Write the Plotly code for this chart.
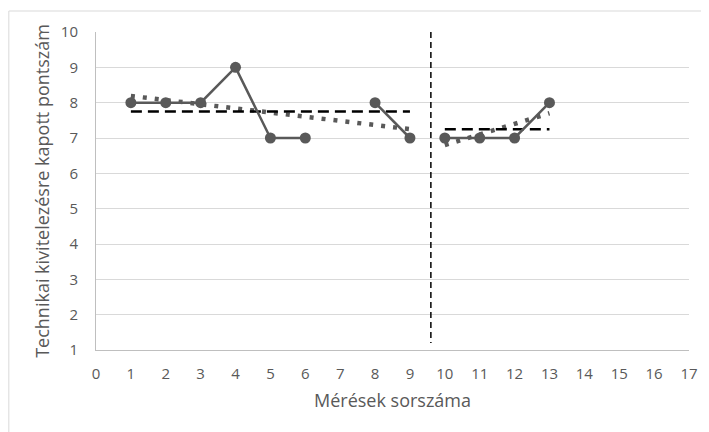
import plotly.graph_objects as go

# Data
phase1_x = [1, 2, 3, 4, 5, 6, None, 8, 9]
phase1_y = [8, 8, 8, 9, 7, 7, None, 8, 7]
phase2_x = [10, 11, 12, 13]
phase2_y = [7, 7, 7, 8]

mean1_x = [1, 9]
mean1_y = [7.75, 7.75]
mean2_x = [10, 13]
mean2_y = [7.25, 7.25]

trend1_x = [1, 9]
trend1_y = [8.19, 7.25]
trend2_x = [10, 13]
trend2_y = [6.8, 7.7]

phase_split_x = [9.6, 9.6]
phase_split_y = [10, 1.2]

x_ticks = list(range(0, 18))
y_ticks = list(range(1, 11))

grey = "#595959"
font_family = "Open Sans, Liberation Sans, sans-serif"

fig = go.Figure()

# trend lines (dotted)
for tx, ty in [(trend1_x, trend1_y), (trend2_x, trend2_y)]:
    fig.add_trace(go.Scatter(x=tx, y=ty, mode="lines",
                             line=dict(color=grey, width=4.5, dash="4px,8px"),
                             hoverinfo="skip", showlegend=False))

# mean lines (dashed)
for mx, my in [(mean1_x, mean1_y), (mean2_x, mean2_y)]:
    fig.add_trace(go.Scatter(x=mx, y=my, mode="lines",
                             line=dict(color="black", width=2.5, dash="11px,6px"),
                             hoverinfo="skip", showlegend=False))

# phase separator
fig.add_trace(go.Scatter(x=phase_split_x, y=phase_split_y, mode="lines",
                         line=dict(color="black", width=1.5, dash="6px,4px"),
                         hoverinfo="skip", showlegend=False))

# data series
for px, py in [(phase1_x, phase1_y), (phase2_x, phase2_y)]:
    fig.add_trace(go.Scatter(x=px, y=py, mode="lines+markers",
                             line=dict(color=grey, width=2.5),
                             marker=dict(color=grey, size=11),
                             connectgaps=False, showlegend=False))

fig.update_layout(
    width=701, height=424,
    margin=dict(l=88, r=20, t=24, b=82, autoexpand=False),
    paper_bgcolor="white", plot_bgcolor="white",
    font=dict(family=font_family, color=grey, size=15),
    xaxis=dict(range=[0, 17], tickvals=x_ticks, showgrid=False,
               showline=True, linecolor="#bfbfbf", linewidth=1,
               zeroline=False, ticks="", tickfont=dict(size=15, color=grey),
               ticklabelstandoff=10, automargin=False,
               title=dict(text="Mérések sorszáma", font=dict(size=18, color=grey),
                          standoff=12)),
    yaxis=dict(range=[1, 10], tickvals=y_ticks, showgrid=True,
               gridcolor="#d9d9d9", gridwidth=1,
               showline=True, linecolor="#bfbfbf", linewidth=1,
               zeroline=False, ticks="", tickfont=dict(size=15, color=grey),
               ticklabelstandoff=14, automargin=False,
               title=dict(text="Technikai kivitelezésre kapott pontszám",
                          font=dict(size=18, color=grey), standoff=6)),
    shapes=[dict(type="rect", xref="paper", yref="paper",
                 x0=-0.147, x1=1.029, y0=-0.26, y1=1.066,
                 line=dict(color="#d9d9d9", width=1), layer="below")],
)

fig.write_html("out.html")
